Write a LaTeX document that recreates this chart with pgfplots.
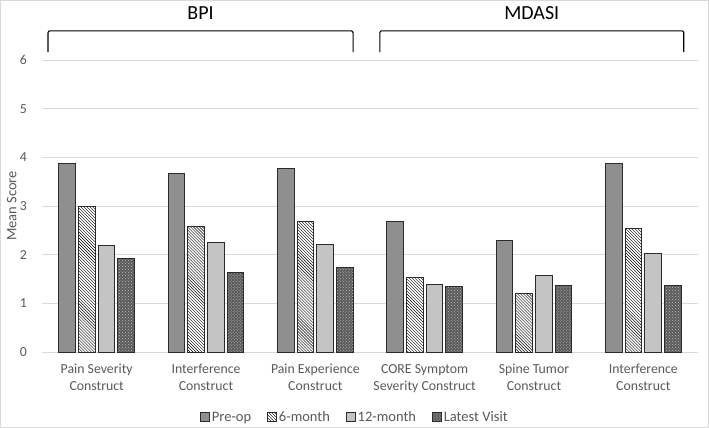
\documentclass[border=0pt]{standalone}
\usepackage{pgfplots}
\pgfplotsset{compat=1.18}
\usepackage{fontspec}
\setmainfont{Carlito}
\usetikzlibrary{patterns}
\definecolor{preop}{HTML}{8F8F8F}
\definecolor{twelve}{HTML}{C4C4C4}
\definecolor{latest}{HTML}{5A5A5A}
\definecolor{gridc}{HTML}{D9D9D9}
\definecolor{txt}{HTML}{595959}
\definecolor{edge}{HTML}{2B2B2B}
\begin{document}
\begin{tikzpicture}
\useasboundingbox (0,0) rectangle (709bp,428bp);
\draw[gridc, line width=1bp] (0.5bp,0.5bp) rectangle (708.5bp,427.5bp);
\begin{axis}[
  at={(42bp,76bp)}, anchor=south west,
  scale only axis, width=656bp, height=292bp,
  xmin=-0.5, xmax=5.5, ymin=0, ymax=6,
  ytick={0,1,2,3,4,5,6},
  xtick={0,1,2,3,4,5},
  xticklabels={{Pain Severity\\Construct},{Interference\\Construct},{Pain Experience\\Construct},{CORE Symptom\\Severity Construct},{Spine Tumor\\Construct},{Interference\\Construct}},
  xticklabel style={align=center, font=\fontsize{13.8bp}{17bp}\selectfont, text=txt, inner sep=0pt, yshift=-12bp},
  yticklabel style={font=\fontsize{13.8bp}{15bp}\selectfont, text=txt, inner sep=0pt},
  yticklabel shift=15bp,
  /pgf/number format/assume math mode=true,
  major tick length=0pt,
  axis line style={draw=none},
  axis x line*=bottom,
  ymajorgrids, grid style={gridc, line width=1bp},
  ylabel={Mean Score},
  ylabel style={font=\fontsize{14.5bp}{16bp}\selectfont, text=txt, at={(axis description cs:-0.046,0.5)}, anchor=center},
  clip=false,
  bar width=0.152,
  legend style={draw=none, at={(0.477,-0.223)}, anchor=center, legend columns=4,
    font=\fontsize{14.5bp}{16bp}\selectfont, text=txt,
    /tikz/every even column/.append style={column sep=14bp}},
  legend image code/.code={\draw[#1, line width=0.8bp] (0bp,-4.5bp) rectangle (9bp,4.5bp);},
]
\draw[gridc, line width=1bp] (axis cs:-0.5,0) -- (axis cs:5.5,0);
\addplot[ybar, bar shift=-0.27, fill=preop, draw=edge, line width=1bp] coordinates {(0,3.88) (1,3.67) (2,3.78) (3,2.69) (4,2.30) (5,3.88)};
\addlegendentry{Pre-op}
\addplot[ybar, bar shift=-0.09, fill=white, draw=edge, line width=1bp, postaction={pattern=north west lines, pattern color=black}] coordinates {(0,2.98) (1,2.58) (2,2.69) (3,1.53) (4,1.21) (5,2.53)};
\addlegendentry{6-month}
\addplot[ybar, bar shift=0.09, fill=twelve, draw=edge, line width=1bp] coordinates {(0,2.19) (1,2.24) (2,2.21) (3,1.39) (4,1.57) (5,2.02)};
\addlegendentry{12-month}
\addplot[ybar, bar shift=0.27, fill=latest, draw=edge, line width=1bp, postaction={pattern=crosshatch dots, pattern color=black!25}] coordinates {(0,1.93) (1,1.63) (2,1.74) (3,1.34) (4,1.37) (5,1.37)};
\addlegendentry{Latest Visit}
% brackets
\draw[black, line width=1.1bp, rounded corners=2bp] (axis cs:-0.445,6.16) -- (axis cs:-0.445,6.60) -- (axis cs:2.345,6.60) -- (axis cs:2.345,6.16);
\draw[black, line width=1.1bp, rounded corners=2bp] (axis cs:2.59,6.16) -- (axis cs:2.59,6.60) -- (axis cs:5.37,6.60) -- (axis cs:5.37,6.16);
\node[font=\fontsize{20bp}{22bp}\selectfont, text=black] at (axis cs:0.95,6.97) {BPI};
\node[font=\fontsize{20bp}{22bp}\selectfont, text=black] at (axis cs:3.98,6.97) {MDASI};
\end{axis}
\end{tikzpicture}
\end{document}
